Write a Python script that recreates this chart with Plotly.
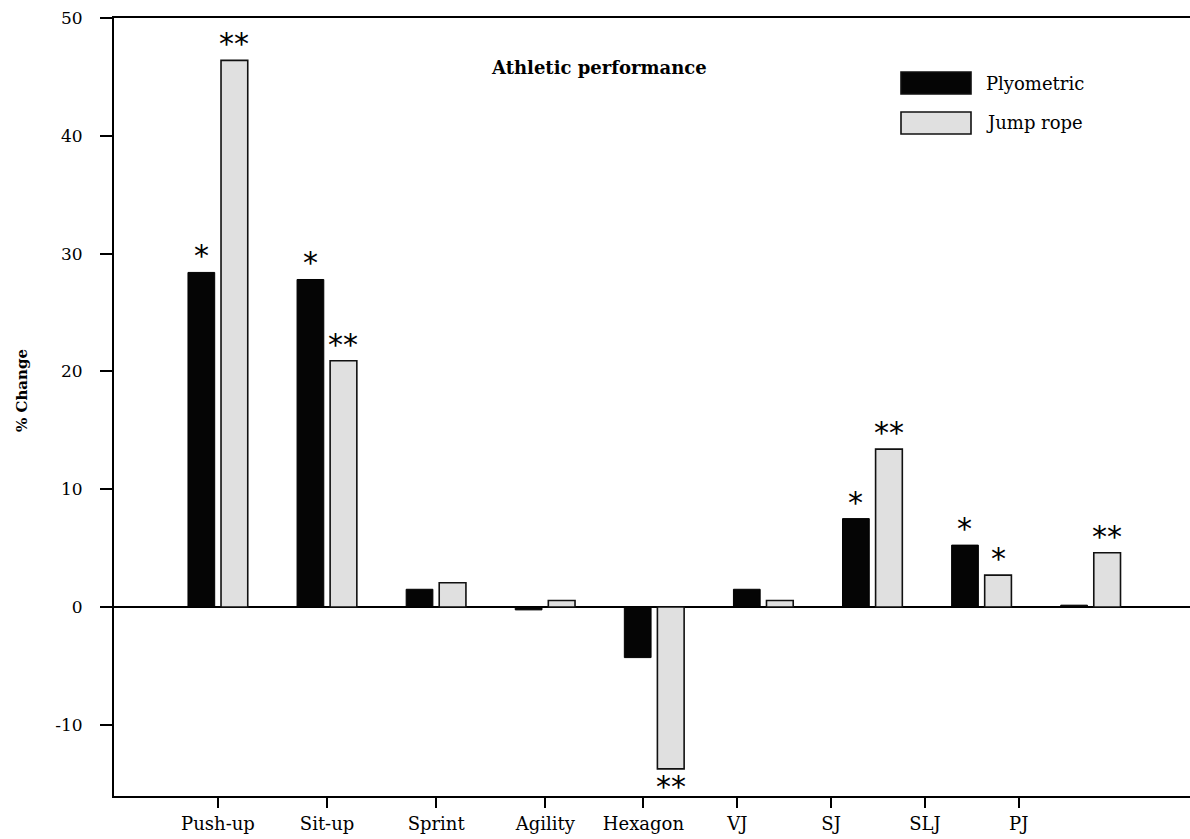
import plotly.graph_objects as go

categories = ["Push-up", "Sit-up", "Sprint", "Agility", "Hexagon", "VJ", "SJ", "SLJ", "PJ"]
plyometric = [28.4, 27.8, 1.5, -0.25, -4.3, 1.5, 7.5, 5.25, 0.15]
jump_rope = [46.4, 20.9, 2.05, 0.55, -13.75, 0.55, 13.4, 2.7, 4.6]
sig_plyo = ["*", "*", "", "", "", "", "*", "*", ""]
sig_jump = ["**", "**", "", "", "**", "", "**", "*", "**"]
y_ticks = [-10, 0, 10, 20, 30, 40, 50]
y_tick_text = ["-10", "0", "10", "20", "30", "40", "50"]

# layout: tick label positions as drawn in the original figure
x_tick_pos = [0, 1.0, 2.0, 3.0, 3.9, 4.76, 5.62, 6.48, 7.34]

FONT = "DejaVu Serif"
xs = list(range(len(categories)))

fig = go.Figure()
fig.add_trace(go.Bar(
    x=xs, y=plyometric, name="Plyometric",
    width=0.245, offset=-0.275,
    marker=dict(color="#050505", line=dict(color="#000000", width=1)),
))
fig.add_trace(go.Bar(
    x=xs, y=jump_rope, name="Jump rope",
    width=0.245, offset=0.028,
    marker=dict(color="#e0e0e0", line=dict(color="#111111", width=1.6)),
))

STAR = dict(family="DejaVu Sans", size=30, color="black")
annotations = []
for i, (sp, sj) in enumerate(zip(sig_plyo, sig_jump)):
    if sp:
        v = plyometric[i]
        annotations.append(dict(x=i - 0.275 + 0.1225, y=v, xref="x", yref="y",
                                text=sp, showarrow=False, yanchor="bottom",
                                yshift=-3, font=STAR))
    if sj:
        v = jump_rope[i]
        annotations.append(dict(x=i + 0.028 + 0.1225, y=v, xref="x", yref="y",
                                text=sj, showarrow=False,
                                yanchor="bottom" if v >= 0 else "top",
                                yshift=-3 if v >= 0 else 2, font=STAR))

# title
annotations.append(dict(x=0.451, y=0.953, xref="paper", yref="paper",
                        text="<b>Athletic performance</b>", showarrow=False,
                        xanchor="center",
                        font=dict(family=FONT, size=18, color="black")))
# y axis title
annotations.append(dict(x=-0.0855, y=0.5206, xref="paper", yref="paper",
                        text="<b>% Change</b>", showarrow=False, textangle=-90,
                        xanchor="center", yanchor="middle",
                        font=dict(family=FONT, size=15, color="black")))

# custom legend
legend_items = [("Plyometric", "#050505"), ("Jump rope", "#e0e0e0")]
shapes = []
W, H = 1076.0, 778.0
for k, (name, col) in enumerate(legend_items):
    y_top = 72 + k * 40
    y0 = 1 - (y_top + 22 - 18) / H
    y1 = 1 - (y_top - 18) / H
    x0 = (901 - 114) / W
    x1 = (971 - 114) / W
    shapes.append(dict(type="rect", xref="paper", yref="paper", x0=x0, x1=x1, y0=y0, y1=y1,
                       fillcolor=col, line=dict(color="#111111", width=1.6)))
    annotations.append(dict(x=(984 - 114) / W, y=(y0 + y1) / 2, xref="paper", yref="paper",
                            text=name, showarrow=False, xanchor="left", yanchor="middle",
                            font=dict(family=FONT, size=18, color="black")))

fig.update_layout(
    width=1190, height=839,
    margin=dict(l=114, r=0, t=18, b=43),
    paper_bgcolor="white", plot_bgcolor="white",
    showlegend=False,
    barmode="overlay",
    annotations=annotations,
    shapes=shapes,
    font=dict(family=FONT, size=17, color="black"),
)
fig.update_xaxes(
    range=[-0.953, 8.91],
    tickmode="array", tickvals=x_tick_pos, ticktext=categories,
    ticks="outside", ticklen=10, tickwidth=1.6, tickcolor="black",
    showline=True, linecolor="black", linewidth=1.8, mirror=True,
    showgrid=False, zeroline=False, automargin=False,
    tickfont=dict(family=FONT, size=18, color="black"),
)
fig.update_yaxes(
    range=[-16.05, 50],
    tickmode="array", tickvals=y_ticks, ticktext=y_tick_text,
    ticks="outside", ticklen=12, tickwidth=1.6, tickcolor="black",
    showline=True, linecolor="black", linewidth=1.8,
    showgrid=False, automargin=False,
    zeroline=True, zerolinecolor="black", zerolinewidth=1.6,
    ticklabelstandoff=14,
    tickfont=dict(family=FONT, size=17, color="black"),
)

fig.write_html("out.html", config={"displayModeBar": False},
               post_script="document.body.style.margin='0';")
